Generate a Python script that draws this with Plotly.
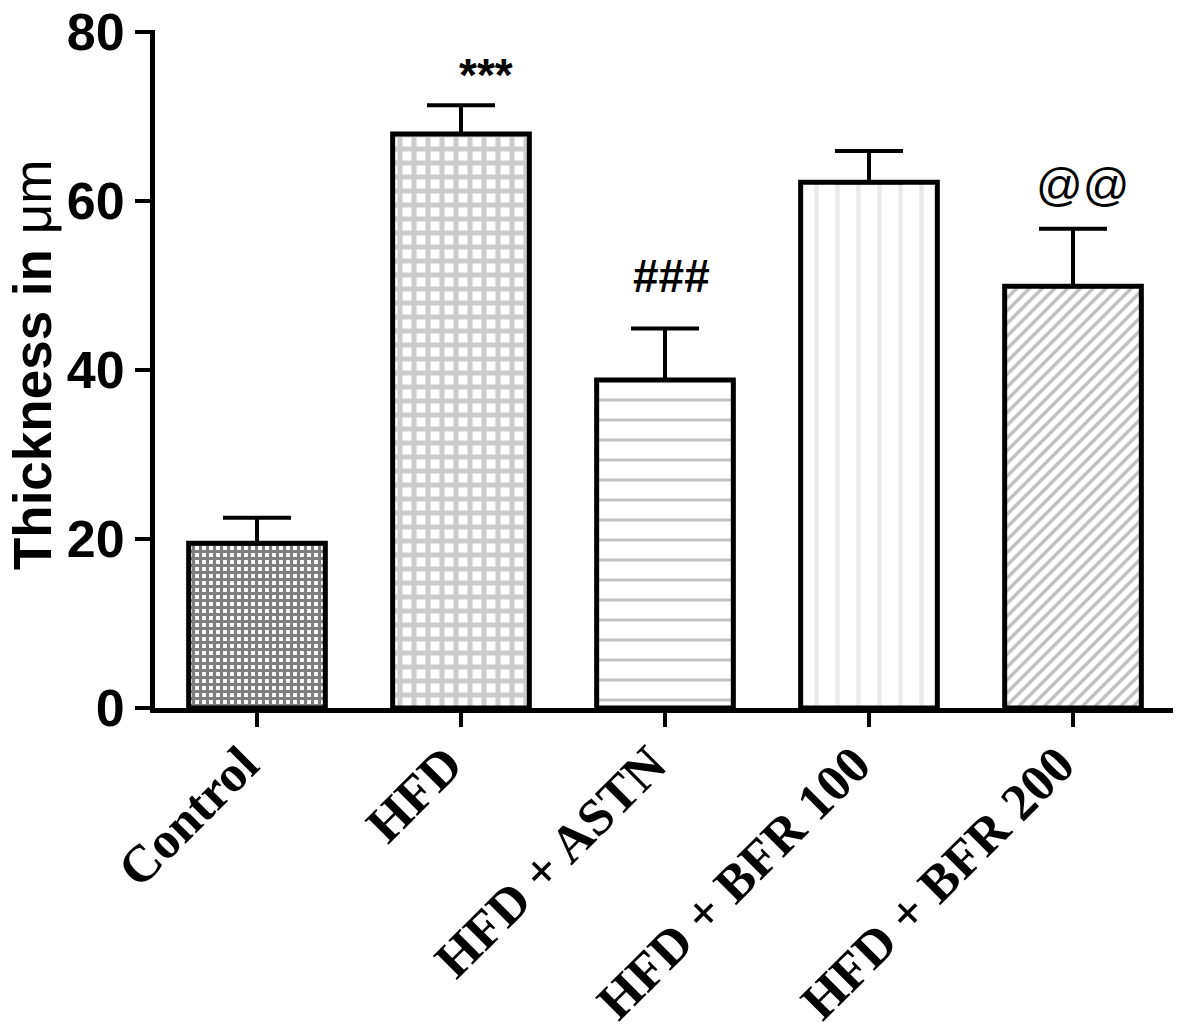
import plotly.graph_objects as go

groups = ["Control", "HFD", "HFD + ASTN", "HFD + BFR 100", "HFD + BFR 200"]
means = [19.5, 67.9, 38.8, 62.2, 49.9]
sems = [3.0, 3.4, 6.1, 3.7, 6.8]
marks = ["", "***", "###", "", "@@"]

y_ticks = [0, 20, 40, 60, 80]
y_title = "Thickness in <span style='font-weight:normal'>μm</span>"

# fill patterns for each group (closest plotly shapes to the Prism fills)
patterns = [
    dict(shape="+", fgcolor="#000000", bgcolor="white", size=7, solidity=0.7),
    dict(shape="+", fgcolor="#9a9a9a", bgcolor="white", size=14, solidity=0.6),
    dict(shape="-", fgcolor="#858585", bgcolor="white", size=20, solidity=0.15),
    dict(shape="|", fgcolor="#d6d6d6", bgcolor="white", size=21, solidity=0.22),
    dict(shape="/", fgcolor="#808080", bgcolor="white", size=9, solidity=0.38),
]

fig = go.Figure()
for g, m, s, p in zip(groups, means, sems, patterns):
    fig.add_trace(go.Bar(
        x=[g],
        y=[m],
        width=0.67,
        marker=dict(color="white", pattern=p, line=dict(color="black", width=5)),
        error_y=dict(type="data", symmetric=False, array=[s], arrayminus=[0],
                     color="black", thickness=4, width=34),
        showlegend=False,
    ))

# (xshift, yshift) per significance mark
offsets = {"***": (25, 2), "###": (6, 24), "@@": (9, 16)}
for g, m, s, t in zip(groups, means, sems, marks):
    if not t:
        continue
    dx, dy = offsets[t]
    fig.add_annotation(
        x=g, y=m + s, text=t, showarrow=False,
        yanchor="bottom", yshift=dy, xshift=dx,
        font=dict(family="Liberation Sans", size=46, color="black",
                  weight="bold" if t != "@@" else "normal"),
    )

# y axis title as a rotated annotation so it can sit close to the page edge
fig.add_annotation(
    x=0, xref="paper", xanchor="right", xshift=-91,
    y=40.5, yref="y", yanchor="middle",
    text=y_title, textangle=-90, showarrow=False,
    font=dict(family="Liberation Sans", size=53, color="black", weight="bold"),
)

fig.update_layout(
    width=1173,
    height=1026,
    margin=dict(l=147, r=6, t=22, b=326),
    paper_bgcolor="white",
    plot_bgcolor="white",
)

fig.update_xaxes(
    type="category",
    range=[-0.5, 4.5],
    automargin=False,
    showline=True, linecolor="black", linewidth=5,
    ticks="outside", ticklen=14, tickwidth=4, tickcolor="black",
    tickangle=-45,
    ticklabelshift=-14,
    ticklabelstandoff=-14,
    tickfont=dict(family="Liberation Serif", size=52, color="black", weight="bold"),
    showgrid=False, zeroline=False,
)

fig.update_yaxes(
    range=[0, 80.2],
    tickvals=y_ticks,
    automargin=False,
    showline=True, linecolor="black", linewidth=5,
    ticks="outside", ticklen=15, tickwidth=4, tickcolor="black",
    ticklabeloverflow="allow",
    tickfont=dict(family="Liberation Sans", size=52, color="black", weight="bold"),
    showgrid=False, zeroline=False,
)

fig.write_html("out.html")
